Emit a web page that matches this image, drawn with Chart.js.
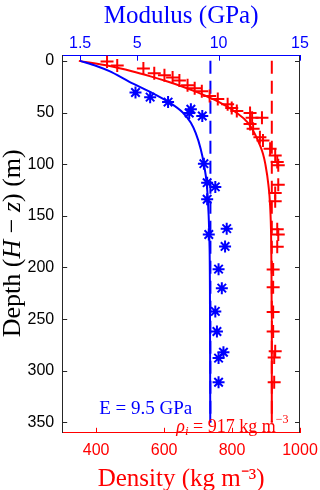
<!DOCTYPE html>
<html>
<head>
<meta charset="utf-8">
<script src="https://cdn.jsdelivr.net/npm/chart.js@4.4.1/dist/chart.umd.min.js"></script>
<style>
	body { margin: 0; background: #fff; }
	#wrap { width: 320px; height: 490px; position: relative; }
</style>
</head>
<body>
<div id="wrap"><canvas id="profileChart"></canvas></div>
<script>
// tick labels
const depthTicks = [0, 50, 100, 150, 200, 250, 300, 350];
const densityTicks = [400, 600, 800, 1000];
const modulusTicks = [1.5, 5, 10, 15];

// density measurements (+) and fitted profile
const densityDepth = [0.7, 4.5, 7.4, 12, 14, 16, 19, 23.6, 26.5, 29.4, 34, 37, 42, 45.6, 48.5, 50.4, 55, 55, 61, 65.7, 74, 77, 85, 91.6, 98, 101, 120, 128, 136, 163, 168, 180, 202, 219, 243, 262, 281, 287, 311];
const densityValue = [432, 462, 539, 571, 601, 625, 645, 669, 690, 711, 734, 758, 787, 799, 814, 853, 859, 888, 853, 862, 882, 891, 912, 927, 933, 936, 936, 927, 927, 933, 936, 933, 921, 921, 921, 921, 927, 924, 924];
const densityFitDepth = [0, 5, 10, 15, 20, 25, 30, 35, 40, 50, 60, 70, 80, 90, 100, 120, 140, 170, 200, 260, 350];
const densityFit = [349, 440, 505, 560, 610, 655, 695, 730, 762, 812, 847, 866, 880, 891, 898, 907, 912, 915, 916, 917, 917];

// modulus measurements (*) and fitted profile
const modulusDepth = [30.6, 35.1, 39.9, 46.9, 50.4, 53.3, 99.5, 117.9, 122, 134, 162.4, 168, 179.6, 201.6, 220, 242.5, 262, 282, 287.7, 311];
const modulusValue = [4.9, 5.8, 6.9, 8.3, 8.2, 9.0, 9.1, 9.3, 9.8, 9.3, 10.5, 9.4, 10.4, 10.0, 10.2, 9.8, 9.9, 10.3, 10.0, 10.0];
const modulusFitDepth = [0, 5, 10, 20, 30, 40, 50, 60, 70, 85, 100, 120, 140, 170, 220, 280, 350];
const modulusFit = [1.5, 2.5, 3.3, 4.5, 5.8, 6.95, 7.8, 8.3, 8.6, 8.9, 9.1, 9.28, 9.36, 9.43, 9.47, 9.48, 9.49];

// reference values
const iceDensity = 917;
const iceModulus = 9.5;
const refDepth = [0, 350];

const blue = '#0000ff';
const red = '#ff0000';
const dark = '#262626';
const serif = '"Liberation Serif", "Times New Roman", serif';
const sans = '"Liberation Sans", Arial, sans-serif';

const zip = (ys, xs) => ys.map((y, i) => ({ x: xs[i], y: y }));

const setTicks = values => scale => {
	scale.ticks = values.map(v => ({ value: v }));
};

// draws a run of text pieces, each with its own font and vertical shift
const drawPieces = (ctx, pieces, x, y) => {
	let cx = x;
	pieces.forEach(p => {
		ctx.font = p.font;
		ctx.fillText(p.text, cx, y + (p.dy || 0));
		cx += ctx.measureText(p.text).width;
	});
	return cx;
};
const piecesWidth = (ctx, pieces) => pieces.reduce((w, p) => {
	ctx.font = p.font;
	return w + ctx.measureText(p.text).width;
}, 0);

const profileDecor = {
	id: 'profileDecor',
	afterDatasetsDraw(chart) {
		const { ctx, chartArea: a, scales } = chart;
		ctx.save();

		// right box edge
		ctx.strokeStyle = dark;
		ctx.lineWidth = 1;
		ctx.beginPath();
		ctx.moveTo(a.right - 0.5, a.top);
		ctx.lineTo(a.right - 0.5, a.bottom);
		ctx.stroke();

		// inward ticks (matlab style)
		const len = 5;
		depthTicks.forEach(v => {
			const py = Math.round(scales.y.getPixelForValue(v)) + 0.5;
			ctx.beginPath();
			ctx.moveTo(a.left, py); ctx.lineTo(a.left + len, py);
			ctx.moveTo(a.right, py); ctx.lineTo(a.right - len, py);
			ctx.stroke();
		});
		ctx.strokeStyle = red;
		densityTicks.forEach(v => {
			const px = Math.round(scales.x.getPixelForValue(v)) + 0.5;
			ctx.beginPath();
			ctx.moveTo(px, a.bottom); ctx.lineTo(px, a.bottom - len);
			ctx.stroke();
		});
		ctx.strokeStyle = blue;
		modulusTicks.forEach(v => {
			const px = Math.round(scales.x2.getPixelForValue(v)) + 0.5;
			ctx.beginPath();
			ctx.moveTo(px, a.top); ctx.lineTo(px, a.top + len);
			ctx.stroke();
		});

		// annotations
		ctx.textBaseline = 'middle';
		ctx.textAlign = 'left';
		ctx.fillStyle = blue;
		ctx.font = `19px ${serif}`;
		ctx.fillText('E = 9.5 GPa', scales.x.getPixelForValue(409), scales.y.getPixelForValue(337));

		ctx.fillStyle = red;
		drawPieces(ctx, [
			{ text: 'ρ', font: `italic 18px ${serif}` },
			{ text: 'i', font: `italic 13px ${serif}`, dy: 4 },
			{ text: ' = 917 kg m', font: `18px ${serif}` },
			{ text: '−3', font: `12px ${serif}`, dy: -7 },
		], scales.x.getPixelForValue(636), scales.y.getPixelForValue(354.7));

		// depth axis title with italic symbols
		const yTitle = [
			{ text: 'Depth (', font: `26px ${serif}` },
			{ text: 'H', font: `italic 26px ${serif}` },
			{ text: ' − ', font: `26px ${serif}` },
			{ text: 'z', font: `italic 26px ${serif}` },
			{ text: ') (m)', font: `26px ${serif}` },
		];
		ctx.fillStyle = '#000';
		ctx.textBaseline = 'alphabetic';
		ctx.translate(20, (a.top + a.bottom) / 2 - 1);
		ctx.rotate(-Math.PI / 2);
		drawPieces(ctx, yTitle, -piecesWidth(ctx, yTitle) / 2, 0);

		ctx.restore();
	}
};

const chart = new Chart(document.getElementById('profileChart'), {
	type: 'scatter',
	data: {
		datasets: [
			{
				label: 'Modulus data',
				xAxisID: 'x2',
				data: zip(modulusDepth, modulusValue),
				pointStyle: 'star',
				pointRadius: 6,
				pointBorderWidth: 2,
				borderColor: blue,
				backgroundColor: blue,
				showLine: false,
			},
			{
				label: 'Density data',
				xAxisID: 'x',
				data: zip(densityDepth, densityValue),
				pointStyle: 'cross',
				pointRadius: 6.5,
				pointBorderWidth: 2,
				borderColor: red,
				backgroundColor: red,
				showLine: false,
			},
			{
				label: 'Modulus fit',
				xAxisID: 'x2',
				data: zip(modulusFitDepth, modulusFit),
				showLine: true,
				borderColor: blue,
				borderWidth: 2,
				pointRadius: 0,
				cubicInterpolationMode: 'monotone',
			},
			{
				label: 'Density fit',
				xAxisID: 'x',
				data: zip(densityFitDepth, densityFit),
				showLine: true,
				borderColor: red,
				borderWidth: 2,
				pointRadius: 0,
				cubicInterpolationMode: 'monotone',
			},
			{
				label: 'E',
				xAxisID: 'x2',
				data: refDepth.map(d => ({ x: iceModulus, y: d })),
				showLine: true,
				borderColor: blue,
				borderWidth: 2,
				borderDash: [13, 7],
				pointRadius: 0,
			},
			{
				label: 'rho_i',
				xAxisID: 'x',
				data: refDepth.map(d => ({ x: iceDensity, y: d })),
				showLine: true,
				borderColor: red,
				borderWidth: 2,
				borderDash: [13, 7],
				pointRadius: 0,
			},
		]
	},
	options: {
		responsive: true,
		maintainAspectRatio: false,
		animation: false,
		events: [],
		layout: { padding: { left: 19.5, right: 20, top: 3, bottom: 0 } },
		plugins: {
			legend: { display: false },
			tooltip: { enabled: false },
		},
		scales: {
			x: {
				type: 'linear',
				position: 'bottom',
				min: 300,
				max: 1000,
				afterBuildTicks: setTicks(densityTicks),
				// let the last label hang past the right edge, like matlab
				afterFit: scale => { scale.paddingRight = 0; },
				grid: { display: false, drawTicks: false },
				border: { display: true, color: red, width: 1 },
				ticks: { color: red, font: { family: sans, size: 16 }, padding: 8, maxRotation: 0, callback: v => v.toString() },
				title: { display: true, text: 'Density (kg m⁻³)', color: red, font: { family: serif, size: 25, lineHeight: 1 }, padding: { top: -1, bottom: -2 } },
			},
			x2: {
				type: 'linear',
				position: 'top',
				min: 0.4,
				max: 15,
				afterBuildTicks: setTicks(modulusTicks),
				afterFit: scale => { scale.paddingRight = 0; },
				grid: { display: false, drawTicks: false },
				border: { display: true, color: blue, width: 1 },
				ticks: { color: blue, font: { family: sans, size: 16 }, padding: 3, maxRotation: 0, callback: v => v.toString() },
				title: { display: true, text: 'Modulus (GPa)', color: blue, font: { family: serif, size: 25, lineHeight: 1.1 }, padding: { top: 0, bottom: 0 } },
			},
			y: {
				type: 'linear',
				reverse: true,
				min: -5,
				max: 360,
				afterBuildTicks: setTicks(depthTicks),
				grid: { display: false, drawTicks: false },
				border: { display: true, color: dark, width: 1 },
				ticks: { color: '#000', font: { family: sans, size: 16 }, padding: 8, callback: v => v.toString() },
			},
		}
	},
	plugins: [profileDecor],
});
</script>
</body>
</html>
